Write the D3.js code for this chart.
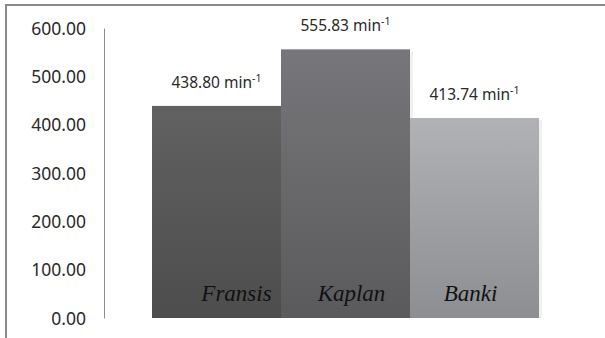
<!DOCTYPE html>
<html>
<head>
<meta charset="utf-8">
<script src="https://cdn.jsdelivr.net/npm/d3@7"></script>
<style>
  body { margin: 0; background: #fff; }
  svg { display: block; }
</style>
</head>
<body>
<svg id="chart" width="605" height="338"></svg>
<script>
// data
var turbines = ["Fransis", "Kaplan", "Banki"];
var speeds = [438.80, 555.83, 413.74];
var unitLabel = "min";
var yTicks = [0, 100, 200, 300, 400, 500, 600];

var svg = d3.select("#chart"),
    width = +svg.attr("width"),
    height = +svg.attr("height");

// outer frame (only top and left edges show)
svg.append("line").attr("x1", 5).attr("x2", width).attr("y1", 5).attr("y2", 5)
    .attr("stroke", "#8a8a8a").attr("stroke-width", 2);
svg.append("line").attr("x1", 6).attr("x2", 6).attr("y1", 4).attr("y2", height)
    .attr("stroke", "#8a8a8a").attr("stroke-width", 2);

var y = d3.scaleLinear().domain([0, 600]).range([318, 28]);
var x = d3.scaleBand().domain(turbines).range([104, 587])
    .paddingInner(0).paddingOuter(0.372);

// gradients for each bar
var colors = [["#616161", "#4d4d4e"], ["#77777b", "#5a5a5c"], ["#b1b2b6", "#8d8e91"]];
var defs = svg.append("defs");
turbines.forEach(function (t, i) {
    var g = defs.append("linearGradient").attr("id", "grad" + i)
        .attr("x1", 0).attr("x2", 0).attr("y1", 0).attr("y2", 1);
    g.append("stop").attr("offset", "0%").attr("stop-color", colors[i][0]);
    g.append("stop").attr("offset", "100%").attr("stop-color", colors[i][1]);
});

// y axis
var yAxis = d3.axisLeft(y).tickValues(yTicks).tickSize(0).tickPadding(18)
    .tickFormat(d3.format(".2f"));
var ax = svg.append("g").attr("transform", "translate(104,0)").call(yAxis);
ax.select(".domain").attr("stroke", "#8c8c8c").attr("stroke-width", 1);
ax.selectAll("text")
    .attr("font-family", "'Noto Sans', sans-serif")
    .attr("font-size", 17.5)
    .attr("fill", "#2a2a2a")
    .attr("dy", "0.36em");

// soft shadow on the right
svg.append("g").selectAll("rect")
    .data(speeds)
    .join("rect")
    .attr("x", function (d, i) { return x(turbines[i]) + 3; })
    .attr("y", function (d) { return y(d) + 2; })
    .attr("width", x.bandwidth())
    .attr("height", function (d) { return y(0) - y(d) - 2; })
    .attr("fill", "#000")
    .attr("opacity", 0.06);

// bars
svg.append("g").selectAll("rect")
    .data(speeds)
    .join("rect")
    .attr("x", function (d, i) { return x(turbines[i]); })
    .attr("y", function (d) { return y(d); })
    .attr("width", x.bandwidth())
    .attr("height", function (d) { return y(0) - y(d); })
    .attr("fill", function (d, i) { return "url(#grad" + i + ")"; });

// value labels
var vl = svg.append("g").selectAll("text")
    .data(speeds)
    .join("text")
    .attr("x", function (d, i) { return x(turbines[i]) + x.bandwidth() / 2; })
    .attr("y", function (d) { return y(d) - 18; })
    .attr("text-anchor", "middle")
    .attr("font-family", "'Noto Sans', sans-serif")
    .attr("font-size", 15.5)
    .attr("fill", "#2a2a2a");
vl.append("tspan").text(function (d) { return d3.format(".2f")(d) + " " + unitLabel; });
vl.append("tspan").attr("font-size", 10.5).attr("dy", -6).text("-1");

// category names inside bars (placed a bit off-centre like the original)
var nudge = [20, 6, -4];
svg.append("g").selectAll("text")
    .data(turbines)
    .join("text")
    .attr("x", function (d, i) { return x(d) + x.bandwidth() / 2 + nudge[i]; })
    .attr("y", 301)
    .attr("text-anchor", "middle")
    .attr("font-family", "'Liberation Serif', 'Times New Roman', serif")
    .attr("font-style", "italic")
    .attr("font-size", 23)
    .attr("fill", "#111")
    .text(function (d) { return d; });
</script>
</body>
</html>
